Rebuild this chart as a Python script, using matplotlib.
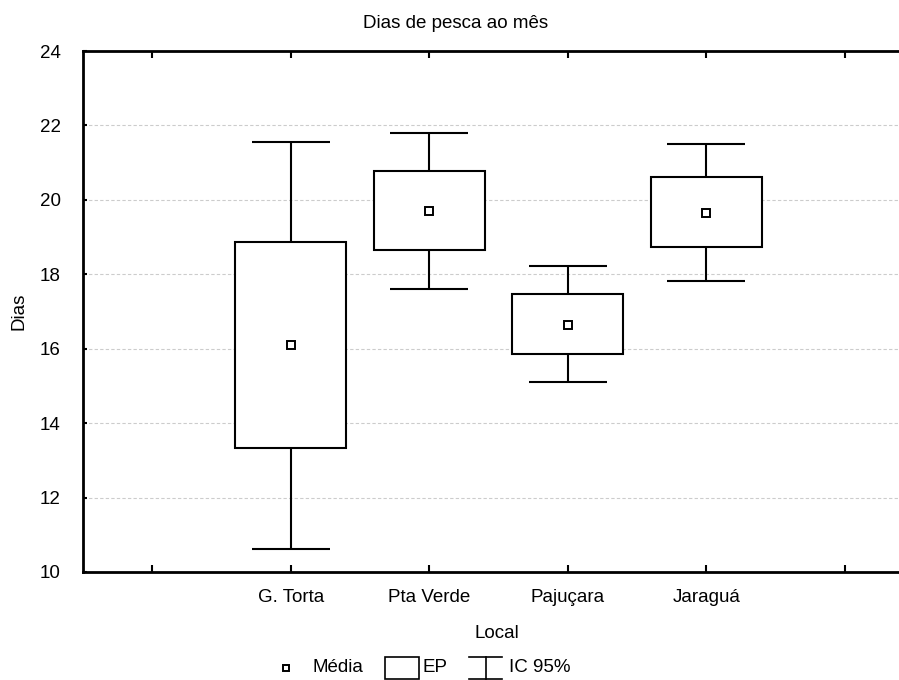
import matplotlib
matplotlib.use("Agg")
import matplotlib.pyplot as plt
from matplotlib.patches import Rectangle

# Dados (média, erro padrão, IC 95%)
locais = ["G. Torta", "Pta Verde", "Pajuçara", "Jaraguá"]
media = [16.10, 19.70, 16.64, 19.66]
ep_sup = [18.88, 20.77, 17.46, 20.61]
ep_inf = [13.32, 18.64, 15.86, 18.73]
ic_sup = [21.55, 21.80, 18.22, 21.51]
ic_inf = [10.63, 17.61, 15.10, 17.82]
y_ticks = [10, 12, 14, 16, 18, 20, 22, 24]

plt.rcParams["font.family"] = ["Liberation Sans", "DejaVu Sans"]
FS = 13.5
LW = 1.5

W, H = 899, 680
fig = plt.figure(figsize=(W / 100, H / 100), dpi=100)
# eixo em pixels: esquerda 83, direita 914 (cortado), topo 51, base 572
ax = fig.add_axes([83 / W, (H - 572) / H, (914 - 83) / W, (572 - 51) / H])

pos = list(range(1, len(locais) + 1))
larg_box = 0.8
larg_cap = 0.56

for x, m, es, ei, cs, ci in zip(pos, media, ep_sup, ep_inf, ic_sup, ic_inf):
    ax.add_patch(Rectangle((x - larg_box / 2, ei), larg_box, es - ei,
                           facecolor="white", edgecolor="black", lw=LW, zorder=3))
    ax.vlines(x, es, cs, color="black", lw=LW, zorder=3)
    ax.vlines(x, ci, ei, color="black", lw=LW, zorder=3)
    ax.hlines([cs, ci], x - larg_cap / 2, x + larg_cap / 2, color="black", lw=LW, zorder=3)
ax.plot(pos, media, linestyle="none", marker="s", markersize=5.5,
        markerfacecolor="white", markeredgecolor="black", markeredgewidth=1.4, zorder=4)

ax.set_xlim(-0.5, 5.5)
ax.set_ylim(10, 24)
ax.set_xticks(range(0, len(locais) + 2))
ax.set_xticklabels([""] + locais + [""])
ax.set_yticks(y_ticks)
ax.grid(axis="y", color="#cccccc", linestyle=(0, (3, 2)), lw=0.8, zorder=0)

for s in ax.spines.values():
    s.set_linewidth(2)
ax.tick_params(axis="x", direction="in", length=5, width=1.5, top=True,
               labelsize=FS, pad=12)
ax.tick_params(axis="y", direction="in", length=3, width=1.5, labelsize=FS, pad=16)

fig.text(456 / W, 1 - 24 / H, "Dias de pesca ao mês", ha="center", va="center", fontsize=FS)
fig.text(497 / W, 1 - 634 / H, "Local", ha="center", va="center", fontsize=FS)
fig.text(19 / W, 1 - 311 / H, "Dias", ha="center", va="center", rotation=90, fontsize=FS)

# legenda desenhada em coordenadas de pixel
lg = fig.add_axes([0, 0, 1, 1], facecolor="none")
lg.set_xlim(0, W)
lg.set_ylim(H, 0)
lg.axis("off")
yc = 668
lg.plot([286], [yc], marker="s", markersize=4.5, markerfacecolor="white",
        markeredgecolor="black", markeredgewidth=1.4, linestyle="none")
lg.text(313, yc, "Média", ha="left", va="center", fontsize=FS)
lg.add_patch(Rectangle((385, yc - 11), 34, 22, facecolor="white", edgecolor="black", lw=1.2))
lg.text(423, yc, "EP", ha="left", va="center", fontsize=FS)
lg.plot([485.5, 485.5], [yc - 11, yc + 11], color="black", lw=1.2)
lg.plot([469, 502], [yc - 11, yc - 11], color="black", lw=1.2)
lg.plot([469, 502], [yc + 11, yc + 11], color="black", lw=1.2)
lg.text(509, yc, "IC 95%", ha="left", va="center", fontsize=FS)

fig.savefig("out.png", dpi=100)
